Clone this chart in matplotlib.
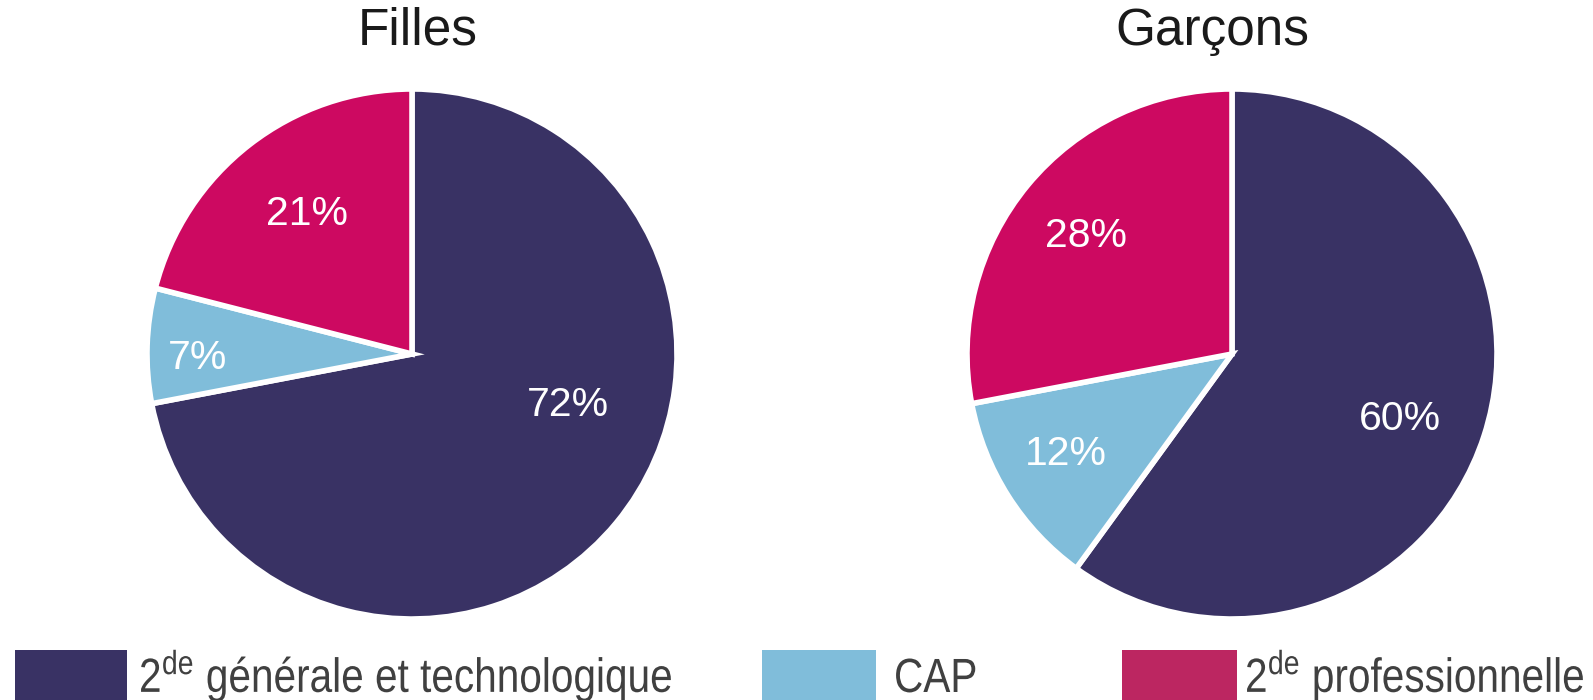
import numpy as np
import matplotlib
matplotlib.use('Agg')
import matplotlib.pyplot as plt
from matplotlib.patches import Rectangle, PathPatch
from matplotlib.textpath import TextPath
from matplotlib.font_manager import FontProperties
from matplotlib.transforms import Affine2D

# données
groupes = ['Filles', 'Garçons']
categories = ['2$^{de}$ générale et technologique', 'CAP', '2$^{de}$ professionnelle']
filles = [72, 7, 21]
garcons = [60, 12, 28]
couleurs = ['#393264', '#80bdda', '#cd0961']
couleurs_legende = ['#393264', '#80bdda', '#bc2661']

plt.rcParams['font.family'] = ['Liberation Sans', 'DejaVu Sans']
plt.rcParams['mathtext.fontset'] = 'custom'
plt.rcParams['mathtext.rm'] = 'Liberation Sans'
plt.rcParams['mathtext.default'] = 'rm'

W, H = 1593, 700
fig = plt.figure(figsize=(W / 100, H / 100), dpi=100)

centres = [(412, 354), (1232, 354)]
titres_x = [418, 1212]
rayon = 265
# angle (deg) ou placer chaque étiquette, et distance
angles_labels = [[-18, 181, 127], [-21, 211, 141]]
dist_labels = [[0.62, 0.81, 0.66], [0.68, 0.73, 0.71]]

for k, (nom, valeurs) in enumerate(zip(groupes, [filles, garcons])):
    cx, cy = centres[k]
    ax = fig.add_axes([(cx - rayon) / W, (H - cy - rayon) / H, 2 * rayon / W, 2 * rayon / H])
    ax.pie(valeurs, colors=couleurs, startangle=90, counterclock=False,
           wedgeprops=dict(edgecolor='white', linewidth=4))
    ax.set_xlim(-1, 1)
    ax.set_ylim(-1, 1)
    ax.set_aspect('equal')
    ax.axis('off')
    for v, a, d in zip(valeurs, angles_labels[k], dist_labels[k]):
        t = np.deg2rad(a)
        ax.text(d * np.cos(t), d * np.sin(t), '%d%%' % v, color='white',
                fontsize=29.5, ha='center', va='center')
    fig.text(titres_x[k] / W, 1 - 31 / H, nom, fontsize=37, color='#1a1a1a', ha='center', va='center')

# légende (texte condensé horizontalement)
patchs_x = [(15, 127), (762, 876), (1122, 1237)]
textes_x = [139, 894, 1245]
fp = FontProperties(family='Liberation Sans')
for (x0, x1), tx, lab, c in zip(patchs_x, textes_x, categories, couleurs_legende):
    fig.patches.append(Rectangle((x0 / W, 0), (x1 - x0) / W, 50 / H, transform=fig.transFigure,
                                 facecolor=c, edgecolor='none'))
    tp = TextPath((0, 0), lab, size=48, prop=fp)
    tr = Affine2D().scale(0.845, 1.0).translate(tx, 8)
    fig.add_artist(PathPatch(tp, transform=tr, facecolor='#404040', edgecolor='none'))

fig.savefig('out.png', dpi=100)
